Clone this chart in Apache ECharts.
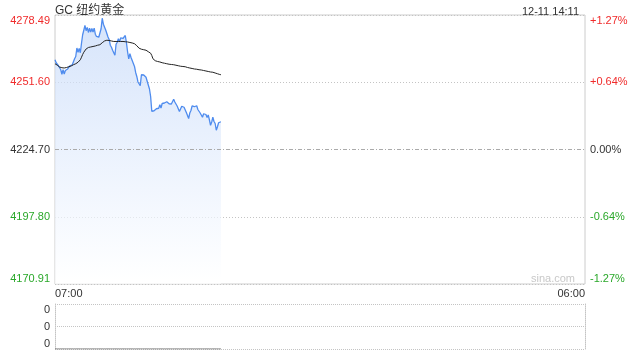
<!DOCTYPE html>
<html><head><meta charset="utf-8">
<script src="https://cdn.jsdelivr.net/npm/echarts@6/dist/echarts.min.js"></script>
<style>html,body{margin:0;padding:0;background:#fff}#c{width:640px;height:360px}</style>
</head><body><div id="c"></div>
<script>
const titleText = 'GC 纽约黄金';
const stampText = '12-11 14:11';
const watermark = 'sina.com';
const prevClose = 4224.70;
const priceTicks = [4170.91, 4197.80, 4224.70, 4251.60, 4278.49];
const volumeTicks = [0, 1, 2];
const volumeTickLabels = ['0', '0', '0'];
const stepMinutes = 3;

// price every 3 minutes from 07:00
const prices = [
4260.6,4259.4,4259.8,4258.2,4258.4,4256.6,4254.8,4256.6,4254.9,4256.3,
4256.2,4256.9,4256.8,4258.2,4257.6,4258.6,4259.2,4261.0,4261.9,4265.3,
4263.6,4265.1,4263.4,4267.2,4270.6,4272.4,4274.3,4272.2,4273.5,4271.5,
4273.2,4271.7,4273.1,4271.7,4273.2,4270.8,4269.9,4269.5,4269.6,4271.3,
4273.0,4277.2,4274.8,4274.1,4272.5,4271.9,4269.7,4268.7,4266.4,4265.6,
4264.4,4263.8,4262.4,4266.8,4267.6,4269.0,4267.8,4269.3,4269.1,4269.1,
4269.4,4270.3,4267.4,4263.8,4260.9,4263.0,4261.5,4261.3,4259.1,4257.9,
4255.5,4253.9,4251.7,4251.6,4250.2,4254.6,4254.5,4254.5,4254.3,4253.6,
4252.0,4251.9,4248.9,4245.9,4240.0,4239.6,4240.2,4240.2,4241.0,4240.9,
4241.2,4242.6,4241.3,4243.1,4243.1,4243.3,4243.7,4243.8,4243.5,4243.0,
4243.0,4242.9,4243.6,4244.8,4243.7,4243.5,4242.1,4241.6,4239.9,4240.1,
4242.0,4241.7,4241.6,4241.0,4239.5,4239.6,4237.1,4239.3,4240.3,4242.1,
4241.9,4241.8,4242.3,4242.2,4240.7,4240.7,4239.3,4239.1,4237.6,4239.0,
4238.8,4238.7,4237.5,4238.5,4236.6,4234.4,4235.7,4237.6,4235.9,4235.1,
4232.4,4233.8,4235.4,4235.5,4235.8
];
const averages = [
4259.0,4258.7,4258.4,4258.0,4257.7,4257.5,4257.4,4257.3,4257.3,4257.4,
4257.5,4257.6,4257.8,4257.9,4258.1,4258.3,4258.6,4258.8,4259.0,4259.2,
4259.6,4260.1,4260.6,4261.6,4262.7,4263.6,4264.3,4264.9,4265.3,4265.5,
4265.6,4265.7,4265.8,4265.9,4266.0,4266.1,4266.3,4266.4,4266.5,4266.6,
4266.9,4267.4,4267.8,4268.1,4268.3,4268.4,4268.4,4268.3,4268.2,4268.1,
4268.0,4267.9,4267.9,4267.9,4267.9,4267.9,4267.9,4267.9,4267.9,4267.9,
4267.9,4267.8,4267.8,4267.7,4267.6,4267.5,4267.4,4267.3,4267.2,4267.0,
4266.7,4266.2,4265.6,4265.2,4265.0,4264.8,4264.7,4264.6,4264.6,4264.4,
4264.1,4263.8,4263.5,4263.2,4262.3,4261.0,4260.4,4260.2,4260.0,4259.9,
4259.8,4259.7,4259.5,4259.4,4259.3,4259.2,4259.1,4259.0,4258.9,4258.8,
4258.7,4258.7,4258.6,4258.6,4258.5,4258.4,4258.3,4258.2,4258.1,4258.0,
4258.0,4257.9,4257.9,4257.8,4257.6,4257.5,4257.4,4257.3,4257.2,4257.1,
4257.0,4256.9,4256.9,4256.8,4256.7,4256.6,4256.6,4256.5,4256.4,4256.3,
4256.2,4256.1,4256.0,4255.9,4255.8,4255.7,4255.6,4255.6,4255.5,4255.3,
4255.1,4255.0,4254.8,4254.7,4254.6
];
const volumes = [
0,0,0,0,0,0,0,0,0,0,0,0,0,0,0,0,0,0,0,0,0,0,0,0,0,0,0,0,0,
0,0,0,0,0,0,0,0,0,0,0,0,0,0,0,0,0,0,0,0,0,0,0,0,0,0,0,0,0,
0,0,0,0,0,0,0,0,0,0,0,0,0,0,0,0,0,0,0,0,0,0,0,0,0,0,0,0,0,
0,0,0,0,0,0,0,0,0,0,0,0,0,0,0,0,0,0,0,0,0,0,0,0,0,0,0,0,0,
0,0,0,0,0,0,0,0,0,0,0,0,0,0,0,0,0,0,0,0,0,0,0,0,0,0,0,0,0
];

// session categories 07:00 -> 06:00 (next day)
const categories = [];
for (let m = 0; m <= 23 * 60; m += stepMinutes) {
  const t = (7 * 60 + m) % 1440;
  categories.push(String(Math.floor(t / 60)).padStart(2, '0') + ':' + String(t % 60).padStart(2, '0'));
}
const lastIdx = categories.length - 1;

const RED = '#f02b2b', GREEN = '#2aa82a', DARK = '#333';
const FONT = '"Liberation Sans", Arial, "Noto Sans CJK SC", sans-serif';
const pMin = priceTicks[0], pMax = priceTicks[priceTicks.length - 1];
function near(a, b) { return Math.abs(a - b) < 1e-6; }
function shiftEdge(v, s) { return near(v, pMax) ? '\n' + s : near(v, pMin) ? s + '\n' : s; }
function priceColor(v) { return v > prevClose + 0.01 ? RED : v < prevClose - 0.01 ? GREEN : DARK; }
const vMin = volumeTicks[0], vMax = volumeTicks[volumeTicks.length - 1];

const chart = echarts.init(document.getElementById('c'));
chart.setOption({
  animation: false,
  textStyle: { fontFamily: FONT },
  title: [
    { text: titleText, left: 50, top: 0, textStyle: { fontSize: 12, fontWeight: 'normal', color: DARK, fontFamily: FONT } },
    { text: stampText, right: 56, top: 1, textStyle: { fontSize: 11, fontWeight: 'normal', color: DARK, fontFamily: FONT } }
  ],
  graphic: [{ type: 'text', right: 65, top: 273, style: { text: watermark, fill: '#c8c8c8', font: '11px ' + FONT } }],
  grid: [
    { left: 55, right: 55, top: 15, height: 269, show: true, borderColor: '#ccc', borderWidth: 1, backgroundColor: 'transparent' },
    { left: 55, right: 55, top: 304, height: 50 }
  ],
  xAxis: [
    { gridIndex: 0, type: 'category', data: categories, boundaryGap: false,
      axisLine: { show: false }, axisTick: { show: false }, splitLine: { show: false },
      axisLabel: { interval: (i) => i === 0 || i === lastIdx, margin: 4, fontSize: 11, color: DARK, fontFamily: FONT,
        alignMinLabel: 'left', alignMaxLabel: 'right', showMinLabel: true, showMaxLabel: true } },
    { gridIndex: 1, type: 'category', data: categories, boundaryGap: false,
      axisLine: { show: false }, axisTick: { show: false }, splitLine: { show: false }, axisLabel: { show: false } }
  ],
  yAxis: [
    { gridIndex: 0, type: 'value', min: pMin, max: pMax, scale: true,
      axisLine: { show: false }, axisTick: { show: false, customValues: priceTicks },
      axisLabel: { customValues: priceTicks, margin: 5, fontSize: 11, fontFamily: FONT,
        formatter: (v) => shiftEdge(v, v.toFixed(2)), color: (v) => priceColor(v) },
      splitLine: { show: true, lineStyle: { type: [1, 2], color: '#c4c4c4' } } },
    { gridIndex: 0, type: 'value', min: pMin, max: pMax, scale: true, position: 'right',
      axisLine: { show: false }, axisTick: { show: false, customValues: priceTicks },
      axisLabel: { customValues: priceTicks, margin: 5, fontSize: 11, fontFamily: FONT,
        formatter: (v) => {
          const p = (v - prevClose) / prevClose * 100;
          const s = Math.abs(p) < 0.005 ? '0.00%' : (p > 0 ? '+' : '') + p.toFixed(2) + '%';
          return shiftEdge(v, s);
        }, color: (v) => priceColor(v) },
      splitLine: { show: false } },
    { gridIndex: 1, type: 'value', min: vMin, max: vMax,
      axisLine: { show: true, lineStyle: { type: [1, 1], color: '#c4c4c4' } }, axisTick: { show: false, customValues: volumeTicks },
      axisLabel: { customValues: volumeTicks, margin: 5, fontSize: 11, color: DARK, fontFamily: FONT,
        formatter: (v) => { const s = volumeTickLabels[volumeTicks.indexOf(v)]; return v === vMax ? '\n' + s : v === vMin ? s + '\n' : s; } },
      splitLine: { show: true, lineStyle: { type: [1, 1], color: '#c4c4c4' } } },
    { gridIndex: 1, type: 'value', min: vMin, max: vMax, position: 'right',
      axisLine: { show: true, lineStyle: { type: [1, 1], color: '#c4c4c4' } }, axisTick: { show: false },
      axisLabel: { show: false }, splitLine: { show: false } }
  ],
  series: [
    { type: 'line', xAxisIndex: 0, yAxisIndex: 0, data: prices, showSymbol: false, symbol: 'none',
      lineStyle: { color: '#4f8cee', width: 1.3 },
      areaStyle: { origin: 'start', color: new echarts.graphic.LinearGradient(0, 0, 0, 1, [
        { offset: 0, color: 'rgba(196,216,248,1)' }, { offset: 0.5, color: 'rgba(226,236,252,1)' }, { offset: 1, color: 'rgba(255,255,255,1)' }]) },
      markLine: { silent: true, symbol: 'none', label: { show: false },
        lineStyle: { type: [4, 2, 1, 2], color: '#aaa', width: 1 }, data: [{ yAxis: prevClose }] } },
    { type: 'line', xAxisIndex: 0, yAxisIndex: 0, data: averages, showSymbol: false, symbol: 'none',
      lineStyle: { color: '#222', width: 1 } },
    { type: 'line', xAxisIndex: 1, yAxisIndex: 2, data: volumes, showSymbol: false, symbol: 'none',
      lineStyle: { color: '#666', width: 1 } }
  ]
});
</script>
</body></html>
